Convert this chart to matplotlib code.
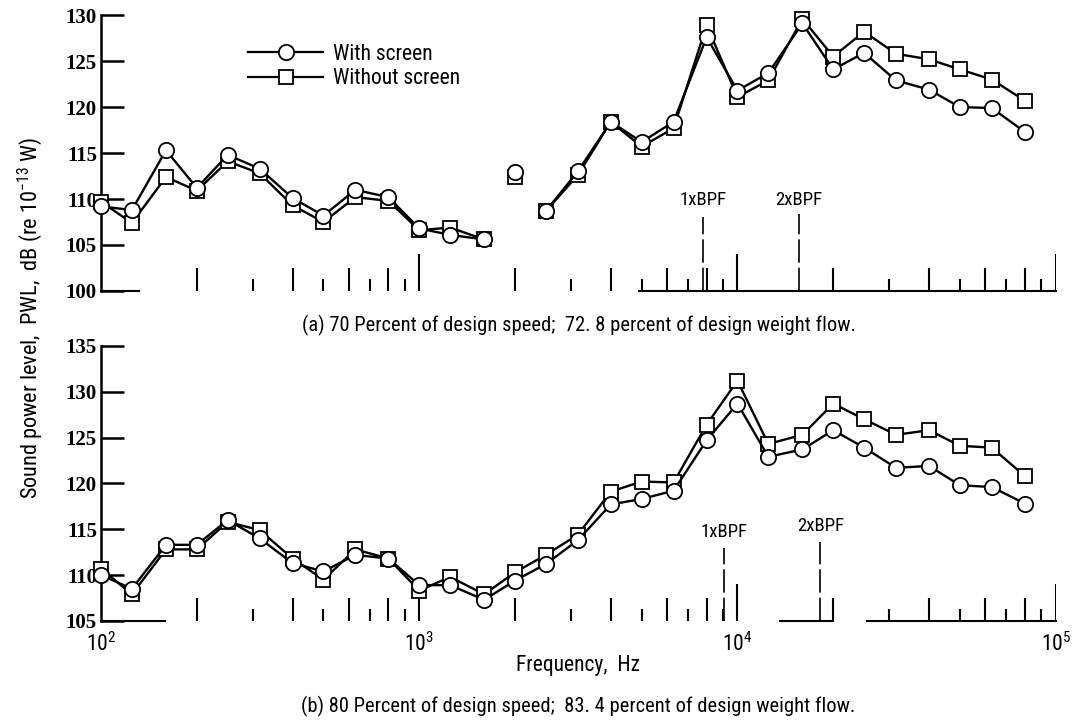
import numpy as np
import matplotlib
matplotlib.use("Agg")
import matplotlib.pyplot as plt
from matplotlib.ticker import FixedLocator, LogFormatterMathtext, NullFormatter, NullLocator

plt.rcParams['font.family'] = ['Roboto Condensed', 'Liberation Sans Narrow', 'Roboto', 'DejaVu Sans']
plt.rcParams['mathtext.fontset'] = 'custom'
plt.rcParams['mathtext.rm'] = 'Roboto Condensed'

# one-third octave band centre frequencies, Hz
freq = [100, 125, 160, 200, 250, 315, 400, 500, 630, 800,
        1000, 1250, 1600, 2000, 2500, 3150, 4000, 5000, 6300, 8000,
        10000, 12500, 16000, 20000, 25000, 31500, 40000, 50000, 63000, 80000]

# (a) 70 percent speed
pwl_a_screen = [109.2, 108.8, 115.3, 111.2, 114.8, 113.3, 110.1, 108.2, 111.0, 110.2,
                106.8, 106.1, 105.6, 112.9, 108.7, 113.0, 118.4, 116.2, 118.4, 127.6,
                121.8, 123.7, 129.1, 124.1, 125.9, 122.9, 121.9, 120.0, 119.9, 117.3]
pwl_a_noscreen = [109.7, 107.4, 112.4, 110.9, 114.1, 112.8, 109.3, 107.5, 110.2, 109.8,
                  106.6, 106.9, 105.6, 112.4, 108.7, 112.6, 118.4, 115.7, 117.7, 128.9,
                  121.1, 122.9, 129.6, 125.5, 128.2, 125.8, 125.2, 124.1, 123.0, 120.7]
# the 2000 Hz band is not joined to its neighbours
runs_a = [(0, 13), (13, 14), (14, 30)]

# (b) 80 percent speed
pwl_b_screen = [110.0, 108.5, 113.3, 113.3, 116.0, 114.0, 111.3, 110.4, 112.2, 111.8,
                108.9, 108.9, 107.3, 109.4, 111.2, 113.8, 117.7, 118.3, 119.2, 124.7,
                128.7, 122.9, 123.7, 125.8, 123.9, 121.7, 121.9, 119.8, 119.6, 117.8]
pwl_b_noscreen = [110.7, 107.9, 112.8, 112.8, 115.8, 114.9, 111.8, 109.5, 112.8, 111.8,
                  108.3, 109.8, 107.9, 110.3, 112.2, 114.4, 119.1, 120.2, 120.1, 126.4,
                  131.2, 124.3, 125.3, 128.7, 127.0, 125.3, 125.8, 124.1, 123.9, 120.8]
runs_b = [(0, 30)]

bpf_a = 7800
bpf_b = 9100

fig = plt.figure(figsize=(10.75, 7.22), dpi=100)
ax_a = fig.add_axes([0.094, 0.597, 0.888, 0.382])
ax_b = fig.add_axes([0.094, 0.140, 0.888, 0.381])


def draw_series(ax, f, y, runs, marker, ms, z):
    f = np.array(f)
    y = np.array(y)
    for i0, i1 in runs:
        ax.plot(f[i0:i1], y[i0:i1], color='black', lw=1.7, marker=marker, ms=ms,
                mfc='white', mec='black', mew=1.3, zorder=z, clip_on=False)


def log_ticks(ax):
    # graph-paper style ticks rising from the frequency axis
    tr = ax.get_xaxis_transform()
    for dec in [100, 1000, 10000]:
        for m in range(2, 10):
            h = 0.083 if m % 2 == 0 else 0.042
            ax.vlines(dec * m, 0, h, transform=tr, color='black', lw=1.5)
    for dec in [1000, 10000, 100000]:
        ax.vlines(dec, 0, 0.135, transform=tr, color='black', lw=1.5)


def bpf_mark(ax, f, label, y0, y1, ytxt):
    ax.plot([f, f], [y0, y1], color='black', lw=1.2, ls=(0, (14, 3)))
    ax.text(f, ytxt, label, ha='center', va='center', fontsize=13.5)


def style(ax, ylo, yhi, baseline):
    ax.set_xscale('log')
    ax.set_xlim(100, 100000)
    ax.set_ylim(ylo, yhi)
    ax.set_yticks(np.arange(ylo, yhi + 1, 5))
    for s in ['top', 'right', 'bottom']:
        ax.spines[s].set_visible(False)
    ax.spines['left'].set_linewidth(1.8)
    ax.tick_params(axis='y', direction='in', length=16.5, width=1.8, pad=3, labelsize=15)
    for lab in ax.get_yticklabels():
        lab.set_family('Liberation Serif')
        lab.set_weight('bold')
    ax.xaxis.set_major_locator(FixedLocator([100, 1000, 10000, 100000]))
    ax.xaxis.set_minor_locator(NullLocator())
    ax.tick_params(axis='x', length=0, pad=8, labelsize=15.5)
    # bottom frame line is only partly printed
    for x0, x1 in baseline:
        ax.plot([x0, x1], [ylo, ylo], color='black', lw=1.5, clip_on=False)
    log_ticks(ax)


style(ax_a, 100, 130, [(100, 132), (4890, 100000)])
ax_a.xaxis.set_major_formatter(NullFormatter())
draw_series(ax_a, freq, pwl_a_noscreen, runs_a, 's', 10, 3)
draw_series(ax_a, freq, pwl_a_screen, runs_a, 'o', 11, 4)
bpf_mark(ax_a, bpf_a, '1xBPF', 100, 108.0, 109.9)
bpf_mark(ax_a, 2 * bpf_a, '2xBPF', 100, 108.4, 109.9)

style(ax_b, 105, 135, [(100, 159), (13650, 19900), (25600, 100000)])
ax_b.xaxis.set_major_formatter(LogFormatterMathtext())
draw_series(ax_b, freq, pwl_b_noscreen, runs_b, 's', 10, 3)
draw_series(ax_b, freq, pwl_b_screen, runs_b, 'o', 11, 4)
bpf_mark(ax_b, bpf_b, '1xBPF', 105, 113.0, 114.7)
bpf_mark(ax_b, 2 * bpf_b, '2xBPF', 105, 113.6, 115.3)

# legend
h_circ, = ax_a.plot([], [], color='black', lw=1.6, marker='o', ms=11, mfc='white', mec='black', mew=1.3)
h_sq, = ax_a.plot([], [], color='black', lw=1.6, marker='s', ms=10, mfc='white', mec='black', mew=1.3)
ax_a.legend([h_circ, h_sq], ['With screen', 'Without screen'], loc='upper left',
            bbox_to_anchor=(0.154, 0.896), frameon=False, fontsize=15.5, handlelength=3.5,
            handletextpad=0.45, labelspacing=0.15, borderpad=0, borderaxespad=0)

fig.text(0.028, 0.56, 'Sound power level,  PWL,  dB (re 10$^{-13}$ W)', rotation=90,
         ha='center', va='center', fontsize=16)
fig.text(0.539, 1 - 325 / 722, '(a) 70 Percent of design speed;  72. 8 percent of design weight flow.',
         ha='center', va='center', fontsize=14.8)
fig.text(0.538, 1 - 666 / 722, 'Frequency,  Hz', ha='center', va='center', fontsize=15.5)
fig.text(0.538, 1 - 706 / 722, '(b) 80 Percent of design speed;  83. 4 percent of design weight flow.',
         ha='center', va='center', fontsize=14.8)

fig.savefig('out.png', dpi=100)
